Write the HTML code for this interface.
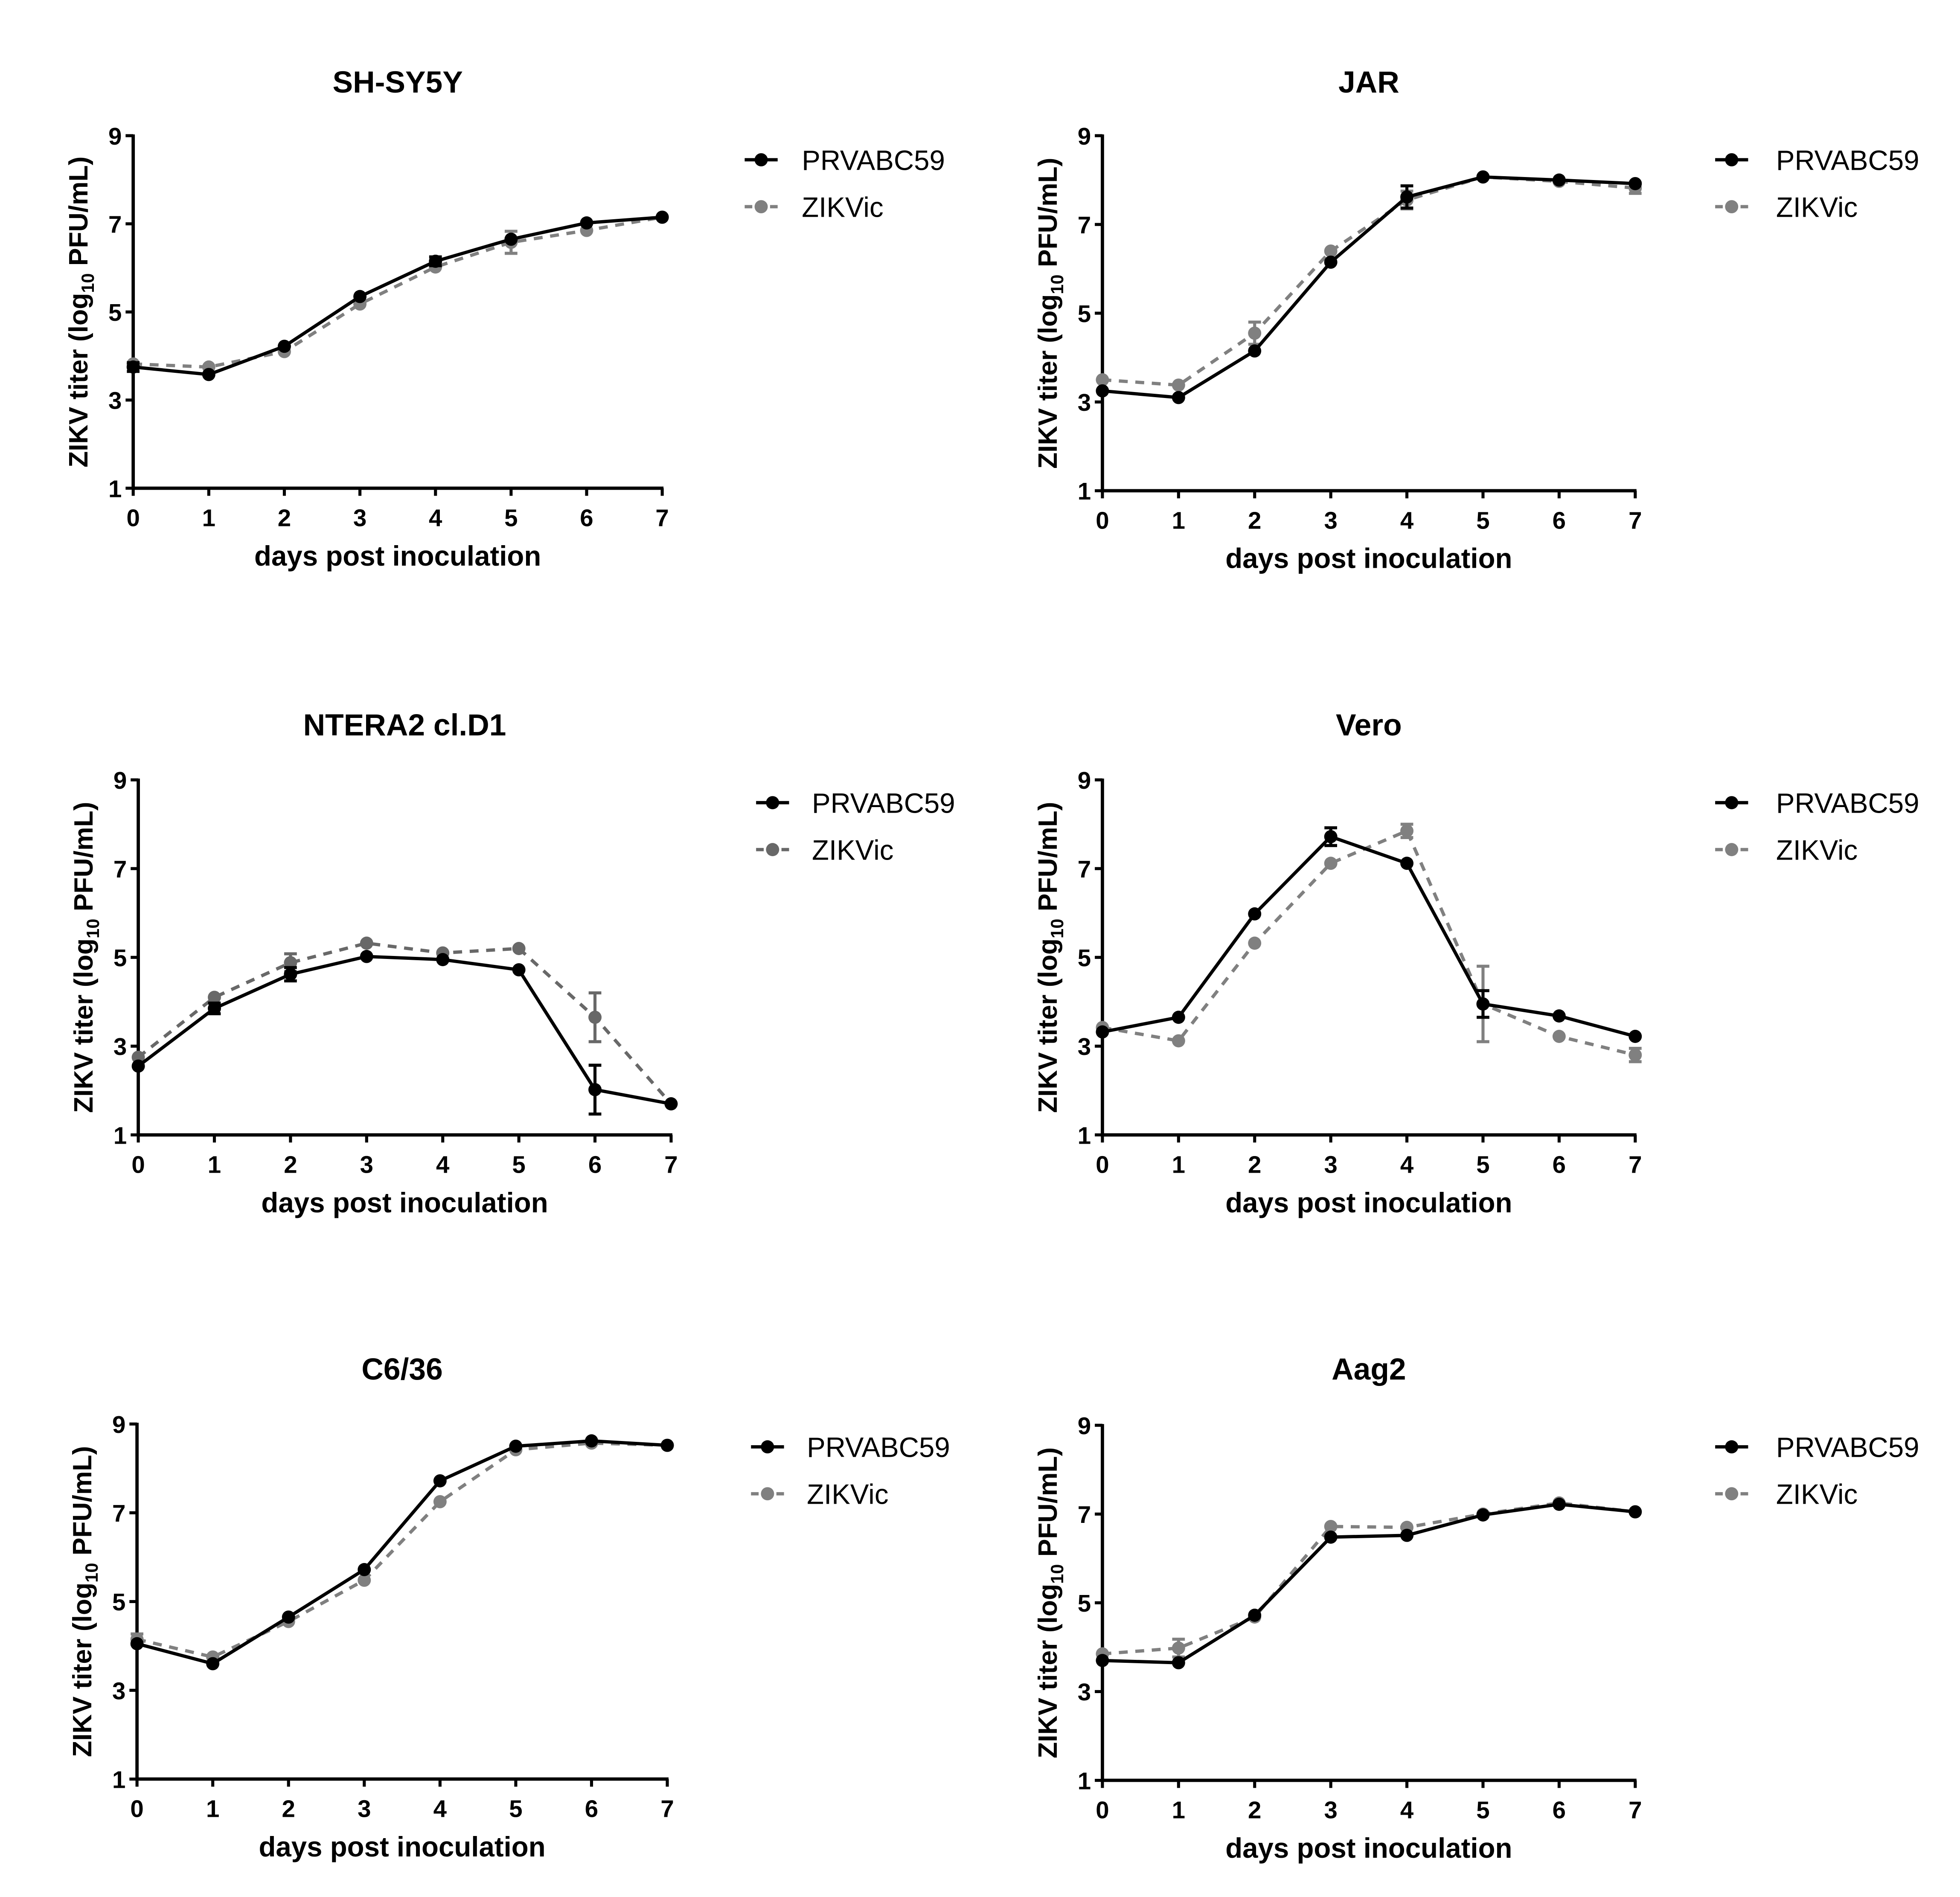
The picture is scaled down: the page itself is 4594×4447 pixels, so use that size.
<!DOCTYPE html>
<html><head><meta charset="utf-8">
<style>
html,body{margin:0;padding:0;background:#fff;}
svg{display:block;}
text{font-family:"Liberation Sans Narrow","Liberation Sans",sans-serif;}
</style></head>
<body>
<svg id="fig" width="4594" height="4447" viewBox="0 0 1545 1496" preserveAspectRatio="none" xmlns="http://www.w3.org/2000/svg"></svg>
<script>
const days = [0,1,2,3,4,5,6,7];
const yTicks = [1,3,5,7,9];
const panelTitles = ["SH-SY5Y","JAR","NTERA2 cl.D1","Vero","C6/36","Aag2"];
const prv_shsy5y = [3.75,3.58,4.22,5.35,6.15,6.65,7.02,7.15];
const zik_shsy5y = [3.82,3.75,4.10,5.18,6.02,6.58,6.85,7.15];
const prvErr_shsy5y = [0.1,0,0,0,0.1,0,0,0];
const zikErr_shsy5y = [0,0,0,0,0,0.25,0,0];
const prv_jar = [3.25,3.10,4.15,6.15,7.62,8.07,8.00,7.92];
const zik_jar = [3.50,3.38,4.55,6.40,7.55,8.07,7.97,7.82];
const prvErr_jar = [0,0,0,0,0.25,0,0,0];
const zikErr_jar = [0,0,0.25,0,0.2,0,0,0.12];
const prv_ntera = [2.55,3.85,4.62,5.02,4.95,4.72,2.02,1.70];
const zik_ntera = [2.75,4.10,4.88,5.32,5.10,5.20,3.65,1.70];
const prvErr_ntera = [0,0.12,0.15,0,0,0,0.55,0];
const zikErr_ntera = [0,0,0.2,0,0,0,0.55,0];
const prv_vero = [3.32,3.65,5.98,7.72,7.12,3.95,3.68,3.22];
const zik_vero = [3.42,3.12,5.32,7.12,7.85,3.95,3.22,2.80];
const prvErr_vero = [0,0,0,0.2,0,0.3,0,0];
const zikErr_vero = [0,0,0,0,0.15,0.85,0,0.15];
const prv_c636 = [4.05,3.60,4.65,5.72,7.72,8.50,8.62,8.52];
const zik_c636 = [4.15,3.75,4.55,5.48,7.25,8.42,8.57,8.52];
const prvErr_c636 = [0,0,0,0,0,0,0,0];
const zikErr_c636 = [0.12,0,0,0,0,0,0,0];
const prv_aag2 = [3.70,3.65,4.72,6.48,6.52,6.98,7.22,7.05];
const zik_aag2 = [3.85,3.98,4.68,6.72,6.70,7.00,7.25,7.05];
const prvErr_aag2 = [0,0,0,0,0,0,0,0];
const zikErr_aag2 = [0,0.2,0,0,0,0,0,0];

const NS="http://www.w3.org/2000/svg";
const svg=document.getElementById('fig');
function mk(tag,attrs,parent){const e=document.createElementNS(NS,tag);for(const k in attrs)e.setAttribute(k,attrs[k]);(parent||svg).appendChild(e);return e;}

const layouts=[
 {x0:105,x7:522,y9:107,y1:385,tY:65,lgL:587,lgT:632,lgY:126,zc:"#808080",slug:"sh-sy5y"},
 {x0:869,x7:1289,y9:107,y1:387,tY:65,lgL:1352,lgT:1400,lgY:126,zc:"#808080",slug:"jar"},
 {x0:109,x7:529,y9:615,y1:895,tY:572,lgL:596,lgT:640,lgY:633,zc:"#686868",slug:"ntera2"},
 {x0:869,x7:1289,y9:615,y1:895,tY:572,lgL:1352,lgT:1400,lgY:633,zc:"#808080",slug:"vero"},
 {x0:108,x7:526,y9:1123,y1:1403,tY:1080,lgL:592,lgT:636,lgY:1141,zc:"#808080",slug:"c6-36"},
 {x0:869,x7:1289,y9:1124,y1:1404,tY:1080,lgL:1352,lgT:1400,lgY:1141,zc:"#808080",slug:"aag2"}
];
const prvSets=[prv_shsy5y,prv_jar,prv_ntera,prv_vero,prv_c636,prv_aag2];
const zikSets=[zik_shsy5y,zik_jar,zik_ntera,zik_vero,zik_c636,zik_aag2];
const prvErrs=[prvErr_shsy5y,prvErr_jar,prvErr_ntera,prvErr_vero,prvErr_c636,prvErr_aag2];
const zikErrs=[zikErr_shsy5y,zikErr_jar,zikErr_ntera,zikErr_vero,zikErr_c636,zikErr_aag2];

layouts.forEach((L,i)=>{
  const g=mk('g',{});
  
  
  const xs=d=>L.x0+(d-days[0])/(days[days.length-1]-days[0])*(L.x7-L.x0);
  const ys=v=>L.y1-(v-1)/(9-1)*(L.y1-L.y9);
  const cx=(L.x0+L.x7)/2;
  const t=mk('text',{x:cx,y:L.tY+8,'text-anchor':'middle','font-size':24,'font-weight':'bold',fill:'#000'},g);
  t.textContent=panelTitles[i];
  
  
  // axes
  const ax=mk('path',{d:`M${L.x0} ${L.y9-1}V${L.y1}H${L.x7+1}`,stroke:'#000','stroke-width':2.6,fill:'none'},g);
  
  
  yTicks.forEach(v=>{
    mk('line',{x1:L.x0-6,x2:L.x0,y1:ys(v),y2:ys(v),stroke:'#000','stroke-width':2.4},g);
    const tl=mk('text',{x:L.x0-9,y:ys(v)+7,'text-anchor':'end','font-size':19,'font-weight':'bold'},g);
    tl.textContent=v;
    
    
  });
  days.forEach(d=>{
    mk('line',{x1:xs(d),x2:xs(d),y1:L.y1,y2:L.y1+6,stroke:'#000','stroke-width':2.4},g);
    const tl=mk('text',{x:xs(d),y:L.y1+30,'text-anchor':'middle','font-size':19,'font-weight':'bold'},g);
    tl.textContent=d;
    
    
  });
  const xl=mk('text',{x:cx,y:L.y1+61,'text-anchor':'middle','font-size':22,'font-weight':'bold','font-family':'Liberation Sans, sans-serif'},g);
  xl.textContent='days post inoculation';
  
  
  const ymid=(L.y1+L.y9)/2;
  const yl=mk('text',{x:0,y:0,'text-anchor':'middle','font-size':21,'font-weight':'bold','font-family':'Liberation Sans, sans-serif',transform:`translate(${L.x0-36},${ymid}) rotate(-90)`},g);
  yl.innerHTML='ZIKV titer (log<tspan font-size="14" dy="5">10</tspan><tspan dy="-5"> PFU/mL)</tspan>';
  
  
  // series
  const series=[{vals:zikSets[i],err:zikErrs[i],col:L.zc,dash:'7 6',name:'zikvic'},{vals:prvSets[i],err:prvErrs[i],col:'#000',dash:'',name:'prvabc59'}];
  series.forEach(s=>{
    const sg=mk('g',{},g);
    
    
    const pts=days.map((d,k)=>xs(d)+','+ys(s.vals[k])).join(' ');
    const pl=mk('polyline',{points:pts,fill:'none',stroke:s.col,'stroke-width':2.6,'stroke-dasharray':s.dash},sg);
    
    
    days.forEach((d,k)=>{
      const e=s.err[k];
      if(e>0){
        const x=xs(d),a=ys(s.vals[k]+e),b=ys(s.vals[k]-e);
        const eb=mk('path',{d:`M${x} ${a}V${b}M${x-5} ${a}H${x+5}M${x-5} ${b}H${x+5}`,stroke:s.col,'stroke-width':2.4,fill:'none'},sg);
        
        
      }
      const c=mk('circle',{cx:xs(d),cy:ys(s.vals[k]),r:5.2,fill:s.col},sg);
      
      
    });
  });
  // legend
  const lg=mk('g',{},g);
  
  
  [{n:'PRVABC59',c:'#000',dash:'',dy:0},{n:'ZIKVic',c:L.zc,dash:'7 6',dy:37}].forEach(en=>{
    const eg=mk('g',{},lg);
    
    
    const y=L.lgY+en.dy;
    mk('line',{x1:L.lgL,x2:L.lgL+26,y1:y,y2:y,stroke:en.c,'stroke-width':2.6,'stroke-dasharray':en.dash==''?'':'6 4'},eg);
    mk('circle',{cx:L.lgL+13,cy:y,r:5.2,fill:en.c},eg);
    const tt=mk('text',{x:L.lgT,y:y+8,'font-size':22,'font-family':'Liberation Sans, sans-serif'},eg);
    tt.textContent=en.n;
  });
});
</script>
</body></html>
